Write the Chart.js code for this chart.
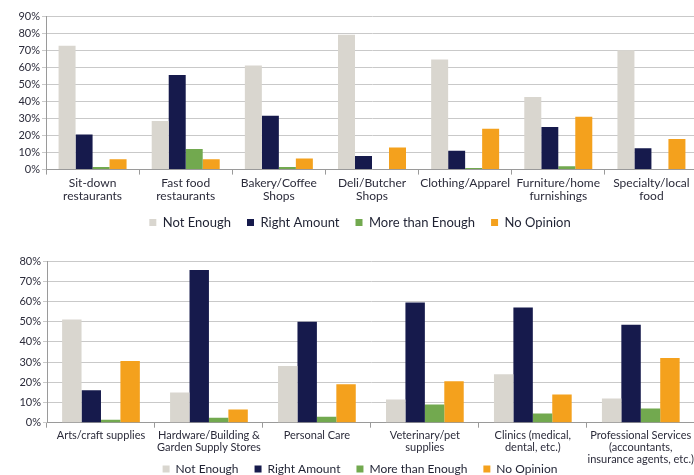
<!DOCTYPE html>
<html>
<head>
<meta charset="utf-8">
<script src="https://cdn.jsdelivr.net/npm/chart.js@4.4.0/dist/chart.umd.min.js"></script>
<style>
    html, body { margin: 0; padding: 0; background: #fff; overflow: hidden; width: 694px; height: 475px; }
    .box { position: absolute; left: 0; }
    #top { top: 0; width: 698px; height: 244px; }
    #bottom { top: 245px; width: 696px; height: 261px; }
</style>
</head>
<body>
<div class="box" id="top"><canvas id="topChart"></canvas></div>
<div class="box" id="bottom"><canvas id="bottomChart"></canvas></div>

<script>
// series names + colours
var seriesNames = ['Not Enough', 'Right Amount', 'More than Enough', 'No Opinion'];
var seriesColors = ['#d9d6cf', '#161a4c', '#72a94f', '#f4a11d'];

// top chart - food / retail
var topLabels = [['Sit-down', 'restaurants'], ['Fast food', 'restaurants'], ['Bakery/Coffee', 'Shops'],
    ['Deli/Butcher', 'Shops'], 'Clothing/Apparel', ['Furniture/home', 'furnishings'], ['Specialty/local', 'food']];
var topNotEnough = [72.5, 28.5, 61, 79, 64.5, 42.5, 70];
var topRightAmount = [20.5, 55.5, 31.5, 8, 11, 25, 12.5];
var topMoreThanEnough = [1.5, 12, 1.5, 0, 1, 2, 0];
var topNoOpinion = [6, 6, 6.5, 13, 24, 31, 18];
var topTicks = [0, 10, 20, 30, 40, 50, 60, 70, 80, 90];

// bottom chart - services
var bottomLabels = ['Arts/craft supplies', ['Hardware/Building &', 'Garden Supply Stores'], 'Personal Care',
    ['Veterinary/pet', 'supplies'], ['Clinics (medical,', 'dental, etc.)'],
    ['Professional Services', '(accountants,', 'insurance agents, etc.)']];
var bottomNotEnough = [51, 15, 28, 11.5, 24, 12];
var bottomRightAmount = [16, 75.5, 50, 59.5, 57, 48.5];
var bottomMoreThanEnough = [1.5, 2.5, 3, 9, 4.5, 7];
var bottomNoOpinion = [30.5, 6.5, 19, 20.5, 14, 32];
var bottomTicks = [0, 10, 20, 30, 40, 50, 60, 70, 80];

Chart.defaults.font.family = 'Lato, "Open Sans", sans-serif';
Chart.defaults.color = '#2b2b3a';

// nudge the legend box a bit (it sits off-centre in the original)
var legendNudge = {
    id: 'legendNudge',
    beforeDraw: function (chart, args, opts) {
        var lg = chart.legend;
        if (!lg) return;
        lg.left += opts.dx; lg.right += opts.dx;
        lg.top += opts.dy; lg.bottom += opts.dy;
    },
    afterDraw: function (chart, args, opts) {
        var lg = chart.legend;
        if (!lg) return;
        lg.left -= opts.dx; lg.right -= opts.dx;
        lg.top -= opts.dy; lg.bottom -= opts.dy;
    }
};

function makeChart(id, labels, values, ticks, cfg) {
    var datasets = values.map(function (v, i) {
        return {
            label: seriesNames[i],
            data: v,
            backgroundColor: seriesColors[i],
            borderWidth: 0,
            categoryPercentage: cfg.catPct,
            barPercentage: 1
        };
    });

    return new Chart(document.getElementById(id), {
        type: 'bar',
        data: { labels: labels, datasets: datasets },
        plugins: [legendNudge],
        options: {
            responsive: true,
            maintainAspectRatio: false,
            animation: false,
            layout: { padding: { left: 0, right: 0, top: 16, bottom: 0 } },
            plugins: {
                tooltip: { enabled: false },
                legendNudge: { dx: cfg.legendDx, dy: cfg.legendDy },
                legend: {
                    position: 'bottom',
                    labels: {
                        boxWidth: 7,
                        boxHeight: 7,
                        padding: 16,
                        color: '#1f2233',
                        font: { size: cfg.legendFont }
                    }
                }
            },
            scales: {
                x: {
                    grid: { display: true, drawOnChartArea: false, drawTicks: true, tickLength: 5, color: '#9a9a9a', offset: true },
                    border: { color: '#9a9a9a' },
                    ticks: { font: { size: cfg.xFont, lineHeight: 1.1 }, maxRotation: 0, autoSkip: false, padding: 2 }
                },
                y: {
                    min: 0,
                    max: ticks[ticks.length - 1],
                    afterBuildTicks: function (axis) {
                        axis.ticks = ticks.map(function (t) { return { value: t }; });
                    },
                    afterFit: function (axis) { axis.width = cfg.yWidth; },
                    grid: { color: '#c9c9c9', tickLength: 4 },
                    border: { display: true, color: '#9a9a9a' },
                    ticks: {
                        font: { size: 11 },
                        padding: 2,
                        callback: function (v) { return v + '%'; }
                    }
                }
            }
        }
    });
}

makeChart('topChart', topLabels,
    [topNotEnough, topRightAmount, topMoreThanEnough, topNoOpinion], topTicks,
    { catPct: 0.73, yWidth: 46, legendDx: 11, legendDy: -5, legendFont: 13, xFont: 12 });

makeChart('bottomChart', bottomLabels,
    [bottomNotEnough, bottomRightAmount, bottomMoreThanEnough, bottomNoOpinion], bottomTicks,
    { catPct: 0.72, yWidth: 47, legendDx: 12, legendDy: -21, legendFont: 12, xFont: 11 });
</script>
</body>
</html>
